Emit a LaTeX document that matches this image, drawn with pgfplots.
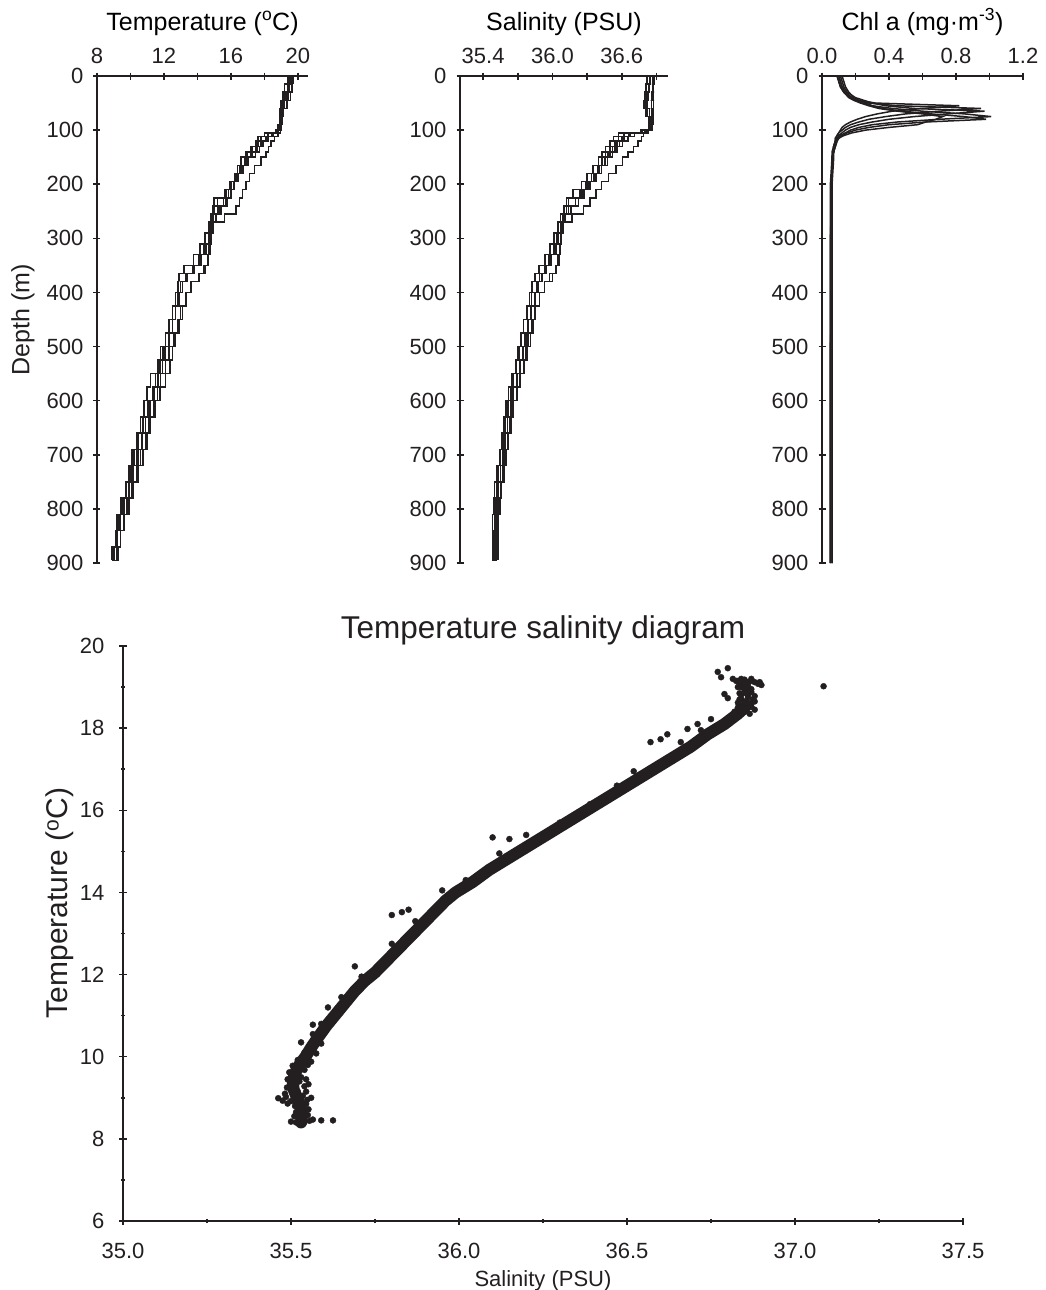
\documentclass[border=0pt]{standalone}
\usepackage{fontspec}
\setmainfont{Liberation Sans}
\usepackage{pgfplots}
\pgfplotsset{compat=1.18}
\usepackage{pgfplotstable}
\definecolor{ink}{HTML}{231F20}

% Temperature profiles (depth, six casts)
\pgfplotstableread{
d   T1   T2   T3   T4   T5   T6
0   19.5 19.6 19.4 19.7 19.5 19.6
15  19.5 19.6 19.2 19.7 19.4 19.5
30  19.3 19.4 19.1 19.6 19.2 19.5
45  19.1 19.2 19.0 19.5 19.0 19.3
60  19.0 19.1 18.9 19.2 18.9 19.1
75  18.9 19.0 18.9 19.1 18.9 19.0
90  18.9 18.9 18.8 19.0 18.9 19.0
100 18.8 18.9 18.7 18.9 18.8 19.0
105 18.2 18.6 18.0 18.7 18.5 18.9
112 17.8 18.3 17.6 18.4 18.1 18.7
120 17.6 18.0 17.5 18.1 17.8 18.5
130 17.3 17.7 17.2 17.8 17.5 18.3
140 17.0 17.4 16.9 17.6 17.2 18.2
150 16.8 17.1 16.6 17.3 16.9 18.0
165 16.5 16.9 16.4 16.8 16.6 17.6
180 16.3 16.6 16.2 16.5 16.4 17.2
195 16.0 16.3 15.9 16.3 16.2 17.0
210 15.7 16.0 15.6 16.1 16.0 16.8
225 15.0 15.7 15.2 15.9 15.7 16.6
240 14.9 15.4 15.0 15.6 15.4 16.4
255 14.8 15.0 14.9 15.0 15.1 16.2
270 14.8 14.9 14.8 14.8 14.9 15.0
290 14.7 14.8 14.7 14.6 14.8 14.9
310 14.5 14.6 14.4 14.3 14.7 14.8
330 14.2 14.3 14.1 14.0 14.6 14.7
350 13.8 13.9 13.7 13.5 14.4 14.6
365 13.4 13.5 13.3 12.9 14.1 14.3
380 13.1 13.2 13.0 12.9 13.6 13.8
400 12.9 13.0 12.8 12.8 13.3 13.5
425 12.7 12.8 12.5 12.6 13.0 13.2
450 12.5 12.6 12.3 12.4 12.8 13.0
475 12.3 12.4 12.1 12.2 12.6 12.8
500 12.0 12.2 11.8 12.0 12.3 12.6
525 11.8 12.0 11.6 11.8 12.1 12.4
550 11.5 11.8 11.2 11.6 11.8 12.3
575 11.3 11.5 11.0 11.4 11.6 11.9
600 11.1 11.3 10.8 11.2 11.4 11.6
630 10.9 11.0 10.6 10.9 11.1 11.3
660 10.7 10.8 10.4 10.6 10.9 11.1
690 10.4 10.6 10.1 10.3 10.6 10.9
720 10.1 10.3 9.9  10.1 10.4 10.6
750 9.9  10.0 9.7  9.9  10.1 10.3
780 9.6  9.8  9.4  9.6  9.8  10.0
810 9.4  9.5  9.2  9.4  9.6  9.8
840 9.2  9.3  9.1  9.2  9.4  9.5
870 9.0  9.1  8.9  9.0  9.2  9.3
895 8.9  9.0  8.9  8.9  9.1  9.2
}\Ttab

% Salinity profiles
\pgfplotstableread{
d   S1    S2    S3    S4    S5    S6
0   36.84 36.86 36.82 36.88 36.85 36.87
15  36.83 36.87 36.81 36.88 36.84 36.86
30  36.82 36.86 36.80 36.87 36.83 36.88
45  36.80 36.85 36.79 36.88 36.82 36.86
60  36.82 36.86 36.81 36.87 36.84 36.85
75  36.84 36.86 36.83 36.87 36.85 36.86
90  36.84 36.85 36.83 36.87 36.85 36.86
100 36.80 36.83 36.78 36.85 36.82 36.86
105 36.62 36.70 36.57 36.74 36.66 36.80
112 36.57 36.64 36.53 36.68 36.60 36.78
120 36.54 36.60 36.50 36.63 36.56 36.76
130 36.50 36.56 36.46 36.58 36.52 36.72
140 36.46 36.52 36.43 36.54 36.48 36.68
150 36.43 36.48 36.40 36.50 36.45 36.63
165 36.39 36.43 36.35 36.45 36.40 36.58
180 36.34 36.38 36.30 36.40 36.36 36.52
195 36.29 36.33 36.25 36.35 36.31 36.45
210 36.24 36.28 36.18 36.30 36.26 36.40
225 36.14 36.22 36.12 36.25 36.20 36.35
240 36.12 36.18 36.10 36.20 36.16 36.30
255 36.09 36.10 36.07 36.12 36.11 36.24
270 36.07 36.08 36.05 36.07 36.08 36.10
290 36.05 36.06 36.04 36.03 36.07 36.08
310 36.03 36.04 36.01 36.00 36.06 36.07
330 35.99 36.00 35.97 35.96 36.05 36.06
350 35.95 35.96 35.93 35.91 36.03 36.05
365 35.91 35.92 35.89 35.86 36.00 36.00
380 35.88 35.89 35.86 35.84 35.93 35.95
400 35.85 35.86 35.82 35.81 35.89 35.91
425 35.82 35.83 35.78 35.79 35.85 35.87
450 35.79 35.80 35.75 35.76 35.82 35.84
475 35.76 35.78 35.73 35.74 35.79 35.82
500 35.74 35.76 35.70 35.72 35.77 35.80
525 35.72 35.74 35.68 35.70 35.75 35.77
550 35.69 35.71 35.65 35.68 35.72 35.74
575 35.66 35.68 35.62 35.65 35.69 35.71
600 35.64 35.65 35.60 35.63 35.66 35.68
630 35.61 35.62 35.58 35.60 35.63 35.65
660 35.59 35.60 35.56 35.58 35.61 35.63
690 35.57 35.58 35.54 35.56 35.59 35.61
720 35.55 35.56 35.52 35.54 35.57 35.59
750 35.53 35.54 35.50 35.52 35.55 35.57
780 35.52 35.52 35.49 35.51 35.53 35.55
810 35.51 35.51 35.48 35.50 35.52 35.54
840 35.50 35.51 35.48 35.50 35.51 35.53
870 35.50 35.50 35.48 35.49 35.51 35.53
895 35.50 35.51 35.49 35.50 35.52 35.53
}\Stab

% Chlorophyll a profiles
\pgfplotstableread{
d   C1   C2   C3   C4   C5   C6
0   0.10 0.09 0.11 0.10 0.12 0.09
10  0.11 0.10 0.12 0.11 0.13 0.10
20  0.12 0.11 0.13 0.12 0.14 0.11
30  0.14 0.13 0.15 0.14 0.16 0.13
40  0.18 0.17 0.20 0.17 0.19 0.16
45  0.22 0.21 0.25 0.20 0.22 0.19
50  0.32 0.28 0.30 0.24 0.26 0.23
55  0.82 0.45 0.38 0.30 0.30 0.28
60  0.60 0.95 0.55 0.42 0.36 0.34
65  0.42 0.70 0.97 0.60 0.48 0.45
70  0.33 0.50 0.75 0.85 0.65 0.60
75  0.26 0.38 0.55 1.01 0.85 0.72
80  0.21 0.28 0.40 0.70 0.98 0.68
85  0.17 0.22 0.30 0.45 0.62 0.62
90  0.14 0.17 0.22 0.30 0.40 0.57
95  0.12 0.14 0.17 0.22 0.28 0.40
100 0.11 0.12 0.14 0.17 0.20 0.26
105 0.10 0.10 0.12 0.14 0.15 0.18
110 0.09 0.09 0.10 0.11 0.12 0.13
115 0.08 0.08 0.09 0.09 0.10 0.10
120 0.08 0.08 0.08 0.08 0.09 0.09
130 0.07 0.07 0.07 0.07 0.08 0.08
140 0.07 0.06 0.07 0.07 0.07 0.07
150 0.06 0.06 0.06 0.06 0.07 0.06
200 0.06 0.05 0.06 0.06 0.06 0.06
300 0.06 0.05 0.06 0.05 0.06 0.06
400 0.06 0.05 0.06 0.05 0.06 0.06
500 0.05 0.05 0.06 0.05 0.06 0.06
600 0.05 0.05 0.06 0.05 0.06 0.06
700 0.05 0.05 0.06 0.05 0.06 0.06
800 0.05 0.05 0.06 0.05 0.06 0.06
900 0.05 0.05 0.06 0.05 0.06 0.06
}\Ctab

% T-S diagram: band centre line
\pgfplotstableread{
S      T
35.530 8.40
35.532 8.60
35.528 8.80
35.518 9.00
35.508 9.20
35.505 9.40
35.512 9.60
35.525 9.80
35.543 10.00
35.562 10.25
35.583 10.50
35.605 10.75
35.630 11.00
35.660 11.30
35.690 11.60
35.720 11.85
35.750 12.05
35.780 12.30
35.810 12.55
35.840 12.80
35.870 13.05
35.900 13.30
35.930 13.55
35.960 13.80
35.990 14.00
36.040 14.25
36.090 14.55
36.140 14.80
36.190 15.05
36.240 15.30
36.290 15.55
36.340 15.80
36.390 16.05
36.440 16.30
36.490 16.55
36.540 16.80
36.590 17.05
36.640 17.30
36.690 17.55
36.740 17.85
36.790 18.10
36.830 18.35
36.850 18.50
}\TSband

% T-S diagram: individual scattered samples
\pgfplotstableread{
S      T
35.500 8.42
35.515 8.40
35.540 8.41
35.555 8.44
35.565 8.47
35.590 8.45
35.625 8.45
35.510 8.55
35.550 8.58
35.515 8.65
35.552 8.72
35.512 8.80
35.545 8.85
35.490 8.86
35.475 8.93
35.462 8.99
35.485 9.02
35.500 8.92
35.548 8.95
35.560 9.00
35.535 9.05
35.482 9.10
35.520 9.15
35.545 9.15
35.488 9.25
35.540 9.28
35.552 9.33
35.500 9.35
35.525 9.40
35.490 9.45
35.545 9.45
35.530 9.50
35.510 9.55
35.495 9.62
35.540 9.68
35.525 9.70
35.505 9.78
35.550 9.80
35.560 9.88
35.520 9.92
35.540 9.95
35.575 10.08
35.540 10.10
35.555 10.20
35.530 10.35
35.590 10.32
35.575 10.40
35.565 10.55
35.590 10.60
35.565 10.78
35.590 10.80
35.620 10.95
35.645 11.10
35.610 11.20
35.650 11.45
35.680 11.55
35.700 11.70
35.740 11.90
35.710 11.95
35.690 12.20
35.800 12.75
35.870 13.30
35.800 13.45
35.830 13.52
35.850 13.58
35.950 14.05
36.020 14.30
36.120 14.95
36.150 15.30
36.100 15.34
36.200 15.40
36.300 15.70
36.390 16.15
36.470 16.60
36.520 16.95
36.570 17.66
36.660 17.66
36.600 17.73
36.620 17.85
36.720 17.95
36.680 17.98
36.710 18.10
36.750 18.22
36.865 18.35
36.820 18.40
36.850 18.40
36.830 18.45
36.880 18.45
36.860 18.50
36.830 18.50
36.870 18.52
36.840 18.55
36.850 18.55
36.870 18.60
36.830 18.62
36.860 18.62
36.850 18.65
36.880 18.65
36.835 18.70
36.840 18.70
36.875 18.70
36.860 18.75
36.840 18.80
36.860 18.80
36.880 18.78
36.855 18.85
36.835 18.85
36.870 18.88
36.850 18.90
36.860 18.95
36.870 18.95
36.840 19.00
36.850 19.00
36.830 19.00
36.860 19.05
36.900 19.05
36.835 19.08
36.890 19.08
36.845 19.10
36.860 19.12
36.880 19.12
36.895 19.12
36.830 19.15
36.870 19.15
36.825 19.15
36.850 19.18
36.815 19.20
36.840 19.20
36.870 19.20
36.770 19.37
36.800 19.46
36.780 19.24
36.790 18.83
36.800 18.73
37.085 19.02
}\TSpts

\pgfplotsset{
  base/.style={
    scale only axis, enlargelimits=false,
    tick style={line width=1.5pt, ink},
    tick align=inside,
    major tick length=7pt,
    /pgf/number format/assume math mode=true,
    tick label style={font=\fontsize{22}{26}\selectfont, text=ink},
    label style={text=ink},
  },
  nolinearrows/.style={
    axis line style={line width=2pt, ink, -},
    x axis line style={-}, y axis line style={-},
    every outer x axis line/.append style={-},
    every outer y axis line/.append style={-},
  },
  toppanel/.style={
    base,
    anchor=north west, height=487pt,
    y dir=reverse, ymin=0, ymax=900, ytick={0,100,...,900},
    axis x line=top, axis y line=left, nolinearrows,
    minor tick length=7pt,
    xticklabel style={anchor=base, yshift=9pt, inner sep=0pt},
    yticklabel style={anchor=east, xshift=-10pt, inner sep=0pt},
    xlabel style={font=\fontsize{25}{30}\selectfont, at={(axis description cs:0.5,1)}, anchor=base, yshift=46pt},
    ylabel style={font=\fontsize{25}{30}\selectfont},
  },
  prof/.style={line width=1.5pt, ink, no markers},
}

\begin{document}
\begin{tikzpicture}
\useasboundingbox (0,0) rectangle (1045pt,-1290pt);

% ---------- Temperature profile ----------
\begin{axis}[toppanel, at={(97pt,-76pt)}, width=211pt,
  xmin=8, xmax=20.6, xtick={8,12,16,20}, minor xtick={10,14,18},
  xlabel={Temperature (\textsuperscript{o}C)},
  ylabel={Depth (m)},
  ylabel style={at={(axis description cs:-0.3507,0.5)}, anchor=center},
]
\addplot[prof, const plot mark right] table[x=T1, y=d] {\Ttab};
\addplot[prof, const plot mark mid]   table[x=T2, y=d] {\Ttab};
\addplot[prof, const plot mark right] table[x=T3, y=d] {\Ttab};
\addplot[prof, const plot mark mid]   table[x=T4, y=d] {\Ttab};
\addplot[prof, const plot mark right] table[x=T5, y=d] {\Ttab};
\addplot[prof, const plot mark mid]   table[x=T6, y=d] {\Ttab};
\end{axis}

% ---------- Salinity profile ----------
\begin{axis}[toppanel, at={(460pt,-76pt)}, width=208pt,
  xmin=35.2, xmax=37.0, xtick={35.4,36.0,36.6}, minor xtick={35.7,36.3,36.9},
  xticklabel style={/pgf/number format/.cd, fixed, fixed zerofill, precision=1},
  xlabel={Salinity (PSU)},
]
\addplot[prof, const plot mark right] table[x=S1, y=d] {\Stab};
\addplot[prof, const plot mark mid]   table[x=S2, y=d] {\Stab};
\addplot[prof, const plot mark right] table[x=S3, y=d] {\Stab};
\addplot[prof, const plot mark mid]   table[x=S4, y=d] {\Stab};
\addplot[prof, const plot mark right] table[x=S5, y=d] {\Stab};
\addplot[prof, const plot mark mid]   table[x=S6, y=d] {\Stab};
\end{axis}

% ---------- Chlorophyll profile ----------
\begin{axis}[toppanel, at={(822pt,-76pt)}, width=201pt,
  xmin=0, xmax=1.2, xtick={0,0.4,0.8,1.2}, minor xtick={0.2,0.6,1.0},
  xticklabel style={/pgf/number format/.cd, fixed, fixed zerofill, precision=1},
  xlabel={Chl a (mg·m\textsuperscript{-3})},
]
\addplot[prof] table[x=C1, y=d] {\Ctab};
\addplot[prof] table[x=C2, y=d] {\Ctab};
\addplot[prof] table[x=C3, y=d] {\Ctab};
\addplot[prof] table[x=C4, y=d] {\Ctab};
\addplot[prof] table[x=C5, y=d] {\Ctab};
\addplot[prof] table[x=C6, y=d] {\Ctab};
\end{axis}

% ---------- T-S diagram ----------
\begin{axis}[base, at={(123pt,-1221pt)}, anchor=south west,
  width=840pt, height=575pt,
  xmin=35, xmax=37.5, ymin=6, ymax=20,
  xtick={35,35.5,...,37.5}, minor xtick={35.25,35.75,...,37.25},
  ytick={6,8,...,20}, minor ytick={7,9,...,19},
  minor tick length=4pt,
  axis x line=bottom, axis y line=left, nolinearrows,
  xticklabel style={anchor=base, yshift=-34pt, inner sep=0pt,
    /pgf/number format/.cd, fixed, fixed zerofill, precision=1},
  yticklabel style={anchor=east, xshift=-15pt, inner sep=0pt},
  title={Temperature salinity diagram},
  title style={font=\fontsize{31.5}{36}\selectfont, text=ink, at={(axis description cs:0.5,1)}, anchor=base, yshift=2pt},
  xlabel={Salinity (PSU)},
  xlabel style={font=\fontsize{22}{26}\selectfont, at={(axis description cs:0.5,0)}, anchor=base, yshift=-65pt},
  ylabel={Temperature (\textsuperscript{o}C)},
  ylabel style={font=\fontsize{30}{34}\selectfont, at={(axis description cs:-0.075,0.553)}, anchor=center},
]
\addplot[ink, line width=12pt, line cap=round, line join=round, no markers] table[x=S, y=T] {\TSband};
\addplot[ink, only marks, mark=*, mark size=3pt] table[x=S, y=T] {\TSpts};
\end{axis}
\end{tikzpicture}
\end{document}
